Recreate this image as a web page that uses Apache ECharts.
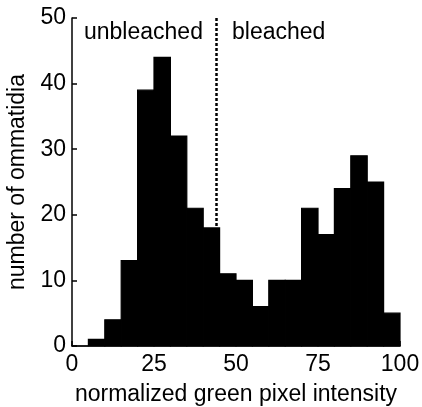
<!DOCTYPE html>
<html><head><meta charset="utf-8">
<script src="https://cdn.jsdelivr.net/npm/echarts@6/dist/echarts.min.js"></script>
<style>html,body{margin:0;padding:0;background:#fff}#c{width:422px;height:407px}</style>
</head><body><div id="c"></div>
<script>
const binStarts = [0,5,10,15,20,25,30,35,40,45,50,55,60,65,70,75,80,85,90,95];
const binWidth = 5;
const counts = [0,1,4,13,39,44,32,21,18,11,10,6,10,10,21,17,24,29,25,5];
const xTicks = [0,25,50,75,100];
const yTicks = [0,10,20,30,40,50];
const threshold = 44;
const regionLabels = ["unbleached","bleached"];

const font = "'Liberation Sans', Arial, sans-serif";
const fs = 23;
const chart = echarts.init(document.getElementById('c'));
const data = binStarts.map((s,i)=>[s, s+binWidth, counts[i]]);
chart.setOption({
  animation:false,
  grid:{left:72,right:22,top:18,bottom:61,outerBoundsMode:'none',containLabel:false},
  xAxis:{type:'value',min:0,max:100,interval:25,
    name:'normalized green pixel intensity',nameLocation:'middle',nameGap:37,
    nameTextStyle:{fontFamily:font,fontSize:fs,color:'#000'},
    axisLine:{show:true,lineStyle:{color:'#000',width:1.5}},
    axisTick:{show:true,inside:true,length:5,lineStyle:{color:'#000',width:1.5}},
    axisLabel:{fontFamily:font,fontSize:fs,color:'#000',margin:7},
    splitLine:{show:false}},
  yAxis:{type:'value',min:0,max:50,interval:10,
    name:'number of ommatidia',nameLocation:'middle',nameGap:38,
    nameTextStyle:{fontFamily:font,fontSize:fs,color:'#000'},
    axisLine:{show:true,lineStyle:{color:'#000',width:1.5}},
    axisTick:{show:true,inside:true,length:5,lineStyle:{color:'#000',width:1.5}},
    axisLabel:{fontFamily:font,fontSize:fs,color:'#000',margin:6},
    splitLine:{show:false}},
  series:[
  {type:'line',data:[],
    markLine:{symbol:'none',silent:true,label:{show:false},
      lineStyle:{color:'#000',type:[3,2],width:2.5},
      data:[[{coord:[threshold,0]},{coord:[threshold,50]}]]}},
  {type:'custom',data:data,z:5,
    renderItem:function(params,api){
      const p0=api.coord([api.value(0),api.value(2)]);
      const p1=api.coord([api.value(1),0]);
      return {type:'rect',shape:{x:p0[0],y:p0[1],width:p1[0]-p0[0],height:p1[1]-p0[1]},
        style:{fill:'#000',stroke:'#000',lineWidth:1.2}};
    }}
  ],
  graphic:[
    {type:'text',left:84,top:21,style:{text:regionLabels[0],font:fs+'px '+font,fill:'#000'}},
    {type:'text',left:232,top:21,style:{text:regionLabels[1],font:fs+'px '+font,fill:'#000'}}
  ]
});
</script></body></html>
